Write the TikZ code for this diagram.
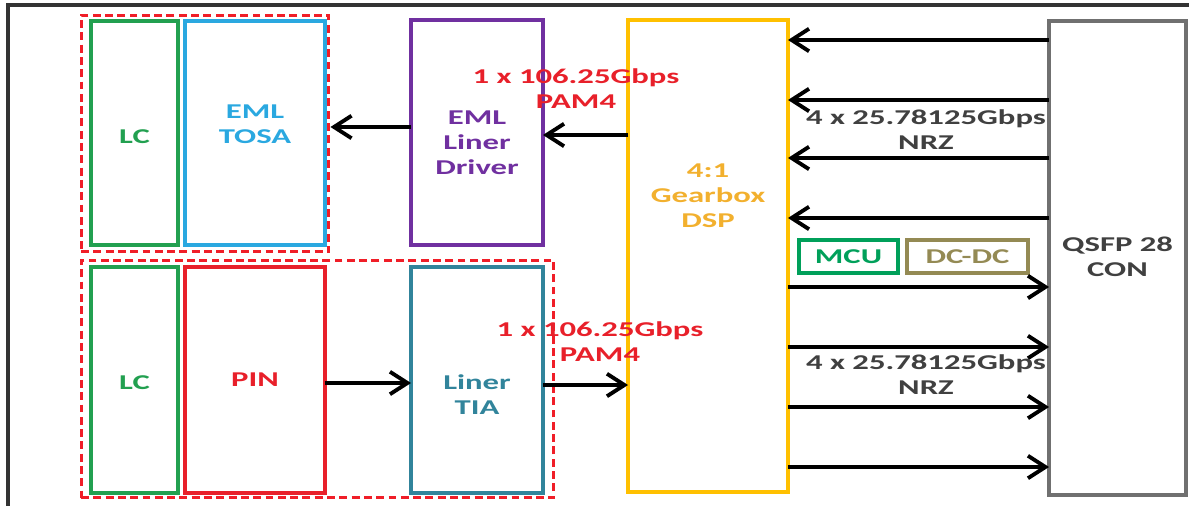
\documentclass[tikz,border=0pt]{standalone}
\usepackage{fontspec}
\setmainfont{Carlito}[FakeStretch=1.55]
\usetikzlibrary{arrows.meta}
\definecolor{lcgreen}{RGB}{34,160,80}
\definecolor{tosablue}{RGB}{42,168,224}
\definecolor{drvpurple}{RGB}{112,48,160}
\definecolor{pinred}{RGB}{232,32,42}
\definecolor{tiateal}{RGB}{49,132,155}
\definecolor{dspgold}{RGB}{255,192,0}
\definecolor{dsptext}{RGB}{242,176,46}
\definecolor{qsfpgray}{RGB}{112,112,112}
\definecolor{darktext}{RGB}{64,64,64}
\definecolor{mcugreen}{RGB}{0,160,90}
\definecolor{dcolive}{RGB}{148,138,84}
\definecolor{grpred}{RGB}{240,30,40}
\tikzset{blk/.style={rectangle,draw,line width=1.9pt,inner sep=0pt,outer sep=0pt},grp/.style={rectangle,draw=grpred,dash pattern=on 4.5pt off 2.5pt,line width=1.7pt,inner sep=0pt},txt/.style={align=center},line/.style={line width=2.2pt,-{Straight Barb[length=3.5mm,width=4.5mm]}}}

\begin{document}
\begin{tikzpicture}[x=0.02cm,y=-0.02cm,font=\fontsize{12}{14.2}\selectfont\bfseries]
\useasboundingbox (0,0) rectangle (1189,506);
\draw[line width=2pt,black!80] (1189,5) -- (8,5) -- (8,506);
\node[grp, minimum width=4.96cm, minimum height=4.74cm] (topgrp) at (205,133.5) {};
\node[grp, minimum width=9.46cm, minimum height=4.76cm] (botgrp) at (317.5,379) {};
\node[blk, draw=lcgreen, minimum width=1.74cm, minimum height=4.48cm] (lctx) at (134.5,133) {};
\node[blk, draw=tosablue, minimum width=2.8cm, minimum height=4.48cm] (tosa) at (255,133) {};
\node[blk, draw=drvpurple, minimum width=2.64cm, minimum height=4.5cm] (drv) at (477,132.5) {};
\node[blk, draw=lcgreen, minimum width=1.74cm, minimum height=4.52cm] (lcrx) at (134.5,380) {};
\node[blk, draw=pinred, minimum width=2.8cm, minimum height=4.52cm] (pin) at (255,380) {};
\node[blk, draw=tiateal, minimum width=2.64cm, minimum height=4.52cm] (tia) at (477,380) {};
\node[blk, draw=dspgold, minimum width=3.2cm, minimum height=9.44cm] (dsp) at (708,256) {};
\node[blk, draw=qsfpgray, minimum width=2.74cm, minimum height=9.48cm] (qsfp) at (1117.5,258) {};
\node[blk, draw=mcugreen, text=mcugreen, minimum width=1.98cm, minimum height=0.66cm] (mcu) at (848.5,256.5) {MCU};
\node[blk, draw=dcolive, text=dcolive, minimum width=2.42cm, minimum height=0.66cm] (dcdc) at (967.5,256.5) {DC-DC};
\node[txt, text=lcgreen] (lctx-t) at (134.5,137) {LC};
\node[txt, text=tosablue] (tosa-t) at (255,124) {EML\\TOSA};
\node[txt, text=drvpurple] (drv-t) at (477,143) {EML\\Liner\\Driver};
\node[txt, text=lcgreen] (lcrx-t) at (134.5,383) {LC};
\node[txt, text=pinred] (pin-t) at (255,380) {PIN};
\node[txt, text=tiateal] (tia-t) at (477,395) {Liner\\TIA};
\node[txt, text=dsptext] (dsp-t) at (708,196) {4:1\\Gearbox\\DSP};
\node[txt, text=darktext] (qsfp-t) at (1117.5,257) {QSFP 28\\CON};
\draw[line] (dsp.west |- 0,135) -- (drv.east |- 0,135);
\draw[line] (drv.west |- 0,127) -- (topgrp.east |- 0,127);
\draw[line] (pin.east |- 0,383) -- (tia.west |- 0,383);
\draw[line] (tia.east |- 0,385) -- (dsp.west |- 0,385);
\foreach \y in {40,100,158,218}
  \draw[line] (qsfp.west |- 0,\y) -- (dsp.east |- 0,\y);
\foreach \y in {287,347,407,467}
  \draw[line] (dsp.east |- 0,\y) -- (qsfp.west |- 0,\y);
\node[txt, text=pinred] (rate-tx) at (576,89) {1 x 106.25Gbps\\PAM4};
\node[txt, text=pinred] (rate-rx) at (600,342) {1 x 106.25Gbps\\PAM4};
\node[txt, text=darktext] (nrz-in) at (926,130) {4 x 25.78125Gbps\\NRZ};
\node[txt, text=darktext] (nrz-out) at (926,375) {4 x 25.78125Gbps\\NRZ};
\end{tikzpicture}
\end{document}
